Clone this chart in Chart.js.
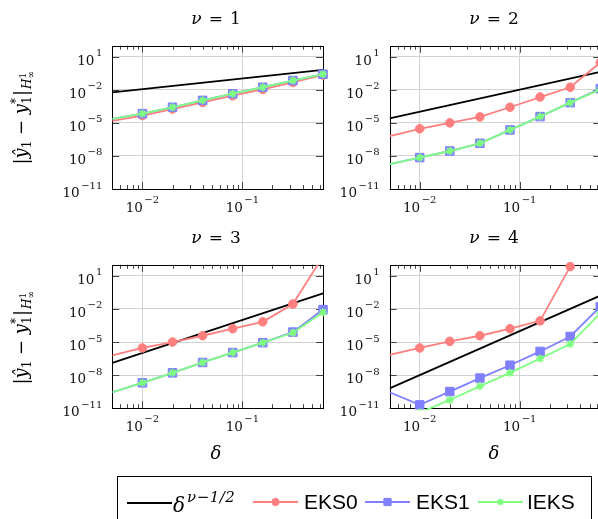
<!DOCTYPE html>
<html>
<head>
<meta charset="utf-8">
<script src="https://cdn.jsdelivr.net/npm/chart.js@4.4.1/dist/chart.umd.min.js"></script>
<style>
  body { margin: 0; background: #fff; overflow: hidden; }
  #fig { position: relative; width: 598px; height: 519px; overflow: hidden; }
  #fig canvas.plot { position: absolute; left: 0; top: 0; }
  .txt { position: absolute; font-family: "DejaVu Serif", serif; color: #000; white-space: nowrap; transform: translate(-50%, -50%); }
  .ttl { font-size: 17px; }
  .ttl i { margin-right: 7px; }
  .ttl b { font-weight: normal; margin-right: 7px; }
  .xl { font-size: 18px; font-style: italic; }
  .yl { font-size: 18px; line-height: 1; transform: translate(-50%, -50%) rotate(-90deg); }
  .yl .sb { font-size: 12px; position: relative; top: 4px; }
  .yl .ss { display: inline-block; position: relative; width: 8px; height: 0; vertical-align: baseline; }
  .yl .ss .u, .yl .ss .d { position: absolute; left: 0; font-size: 12px; line-height: 12px; }
  .yl .ss .u { top: -17px; }
  .yl .ss .d { top: -6px; }
  .yl .h { display: inline-block; position: relative; top: 4px; font-size: 12px; margin-left: 1px; }
  .yl .h .ss { width: 9px; }
  .yl .h .ss .u, .yl .h .ss .d { font-size: 9px; line-height: 9px; }
  .yl .h .ss .u { top: -12px; }
  .yl .h .ss .d { top: -4px; }
  #legend { position: absolute; left: 117px; top: 476px; width: 475px; height: 60px; border: 1px solid #000;
            box-sizing: border-box; font-family: "Liberation Sans", Arial, sans-serif; font-size: 21px; }
  #legend .it { position: absolute; top: 13px; display: flex; align-items: center; }
  #legend .dl { font-family: "DejaVu Serif", serif; font-style: italic; font-size: 20px; }
  #legend .dl sup { font-size: 15px; position: relative; top: -2px; margin-left: 2px; letter-spacing: 0.5px; }
</style>
</head>
<body>
<div id="fig">
  <canvas class="plot" id="c1" width="610" height="519"></canvas>
  <canvas class="plot" id="c2" width="610" height="519"></canvas>
  <canvas class="plot" id="c3" width="610" height="519"></canvas>
  <canvas class="plot" id="c4" width="610" height="519"></canvas>

  <div class="txt ttl" style="left:216px;top:18px"><i>ν</i><b>=</b>1</div>
  <div class="txt ttl" style="left:494px;top:18px"><i>ν</i><b>=</b>2</div>
  <div class="txt ttl" style="left:216px;top:237px"><i>ν</i><b>=</b>3</div>
  <div class="txt ttl" style="left:494px;top:237px"><i>ν</i><b>=</b>4</div>

  <div class="txt yl" style="left:21px;top:117px">|<i>ŷ</i><span class="sb">1</span> − <i>y</i><span class="ss"><span class="u">*</span><span class="d">1</span></span>|<span class="h"><i>H</i><span class="ss"><span class="u">1</span><span class="d">∞</span></span></span></div>
  <div class="txt yl" style="left:21px;top:337px">|<i>ŷ</i><span class="sb">1</span> − <i>y</i><span class="ss"><span class="u">*</span><span class="d">1</span></span>|<span class="h"><i>H</i><span class="ss"><span class="u">1</span><span class="d">∞</span></span></span></div>

  <div class="txt xl" style="left:216px;top:452px">δ</div>
  <div class="txt xl" style="left:494px;top:452px">δ</div>

  <div id="legend"></div>
</div>

<script>
// step sizes
const delta = [0.005, 0.01, 0.02, 0.04, 0.08, 0.16, 0.32, 0.64];
// reference line is drawn between its two end points
const deltaRef = [0.005, 0.64];

// nu = 1
const ref1 = [5.9e-3, 0.65];
const eks0_1 = [1.5e-5, 4.6e-5, 1.8e-4, 7.2e-4, 2.9e-3, 1.1e-2, 4.6e-2, 0.22];
const eks1_1 = [2.3e-5, 6.9e-5, 2.6e-4, 1.1e-3, 4.4e-3, 1.7e-2, 6.9e-2, 0.26];
const ieks_1 = [2.3e-5, 6.9e-5, 2.6e-4, 1.1e-3, 4.4e-3, 1.7e-2, 6.9e-2, 0.26];

// nu = 2
const ref2 = [2.5e-5, 0.42];
const eks0_2 = [6.3e-7, 2.9e-6, 1.0e-5, 3.5e-5, 2.6e-4, 2.2e-3, 1.7e-2, 2.95];
const eks1_2 = [1.8e-9, 7.1e-9, 2.8e-8, 1.4e-7, 2.3e-6, 3.7e-5, 6.8e-4, 1.26e-2];
const ieks_2 = [1.8e-9, 7.1e-9, 2.8e-8, 1.4e-7, 2.3e-6, 3.7e-5, 6.8e-4, 1.1e-2];

// nu = 3
const ref3 = [1.3e-7, 0.26];
const eks0_3 = [6.3e-7, 2.9e-6, 1.0e-5, 3.7e-5, 1.6e-4, 6.8e-4, 2.8e-2, 590];
const eks1_3 = [2.8e-10, 2.0e-9, 1.6e-8, 1.4e-7, 1.1e-6, 8.7e-6, 7.9e-5, 8.7e-3];
const ieks_3 = [2.8e-10, 2.0e-9, 1.6e-8, 1.4e-7, 1.1e-6, 8.7e-6, 6.9e-5, 5.0e-3];

// nu = 4
const ref4 = [6.3e-10, 0.16];
const eks0_4 = [6.8e-7, 2.9e-6, 1.15e-5, 3.7e-5, 1.6e-4, 8.3e-4, 69, null];
const eks1_4 = [2.8e-10, 2.0e-11, 3.2e-10, 5.4e-9, 7.9e-8, 1.4e-6, 3.2e-5, 1.6e-2];
const ieks_4 = [null, 4.0e-12, 5.6e-11, 1.0e-9, 1.6e-8, 3.2e-7, 6.6e-6, 4.1e-3];

// axes
const xMinorTicks = [0.005, 0.006, 0.007, 0.008, 0.009, 0.02, 0.03, 0.04, 0.05, 0.06, 0.07, 0.08, 0.09, 0.2, 0.3, 0.4, 0.5, 0.6];
const xMajorTicks = [0.01, 0.1];
const xTickExp = ['-2', '-1'];
const yMajorTicks = [1e-11, 1e-8, 1e-5, 1e-2, 1e1];
const yTickExp = ['-11', '-8', '-5', '-2', '1'];

const seriesNames = ['δ^(ν−1/2)', 'EKS0', 'EKS1', 'IEKS'];

const W = 610, H = 519;
const colRef = '#000000', colEks0 = '#ff7f7f', colEks1 = '#7f7fff', colIeks = '#7fff7f';

const panels = [
  { id: 'c1', area: [112.3, 45.7, 323, 189], ref: ref1, eks0: eks0_1, eks1: eks1_1, ieks: ieks_1, clipTop: 0 },
  { id: 'c2', area: [389.6, 45.7, 600.3, 189], ref: ref2, eks0: eks0_2, eks1: eks1_2, ieks: ieks_2, clipTop: 0 },
  { id: 'c3', area: [112.3, 264.8, 323, 408.2], ref: ref3, eks0: eks0_3, eks1: eks1_3, ieks: ieks_3, clipTop: 0 },
  { id: 'c4', area: [389.6, 264.8, 600.3, 408.2], ref: ref4, eks0: eks0_4, eks1: eks1_4, ieks: ieks_4, clipTop: 6 }
];

function pts(xs, ys) {
  return xs.map((x, i) => ({ x: x, y: ys[i] }));
}

function noFirst(r) {
  return c => c.dataIndex === 0 ? 0 : r;
}

const BASE_FONT = '13.5px "DejaVu Serif", serif';
const SUP_FONT = '10px "DejaVu Serif", serif';

function drawPow(ctx, exp, x, yBase, align) {
  const sup = exp.replace('-', '\u2212');
  ctx.font = BASE_FONT;
  const wb = ctx.measureText('10').width;
  ctx.font = SUP_FONT;
  const ws = ctx.measureText(sup).width;
  const w = wb + 1.5 + ws;
  const x0 = align === 'center' ? x - w / 2 : x - w;
  ctx.fillStyle = '#111';
  ctx.textAlign = 'left';
  ctx.textBaseline = 'alphabetic';
  ctx.font = BASE_FONT;
  ctx.fillText('10', x0, yBase);
  ctx.font = SUP_FONT;
  ctx.fillText(sup, x0 + wb + 1.5, yBase - 8.5);
}

// frame, inward tick marks and 10^k labels like pgfplots
const pgfAxis = {
  id: 'pgfAxis',
  beforeDatasetsDraw(chart) {
    const { ctx, chartArea: a, scales } = chart;
    ctx.save();
    ctx.strokeStyle = '#444';
    ctx.lineWidth = 1;
    ctx.beginPath();
    xMinorTicks.forEach(v => {
      const px = Math.round(scales.x.getPixelForValue(v)) + 0.5;
      if (px < a.left + 1 || px > a.right - 1) return;
      ctx.moveTo(px, a.top); ctx.lineTo(px, a.top + 4);
      ctx.moveTo(px, a.bottom); ctx.lineTo(px, a.bottom - 4);
    });
    xMajorTicks.forEach(v => {
      const px = Math.round(scales.x.getPixelForValue(v)) + 0.5;
      ctx.moveTo(px, a.top); ctx.lineTo(px, a.top + 7);
      ctx.moveTo(px, a.bottom); ctx.lineTo(px, a.bottom - 7);
    });
    yMajorTicks.forEach(v => {
      const py = Math.round(scales.y.getPixelForValue(v)) + 0.5;
      ctx.moveTo(a.left, py); ctx.lineTo(a.left + 7, py);
      ctx.moveTo(a.right, py); ctx.lineTo(a.right - 7, py);
    });
    ctx.stroke();
    ctx.strokeStyle = '#000';
    ctx.strokeRect(Math.round(a.left) + 0.5, Math.round(a.top) + 0.5,
                   Math.round(a.right - a.left), Math.round(a.bottom - a.top));
    ctx.restore();
  },
  afterDraw(chart) {
    const { ctx, chartArea: a, scales } = chart;
    ctx.save();
    xMajorTicks.forEach((v, i) => {
      drawPow(ctx, xTickExp[i], scales.x.getPixelForValue(v), a.bottom + 22.5, 'center');
    });
    yMajorTicks.forEach((v, i) => {
      drawPow(ctx, yTickExp[i], a.left - 10, scales.y.getPixelForValue(v) + 8, 'right');
    });
    ctx.restore();
  }
};

panels.forEach(p => {
  const clip = { left: 0, top: p.clipTop, right: 8, bottom: 2 };
  new Chart(document.getElementById(p.id), {
    type: 'line',
    data: {
      datasets: [
        {
          label: seriesNames[0], data: pts(deltaRef, p.ref), order: 3,
          borderColor: colRef, borderWidth: 1.8, pointRadius: 0, clip: clip
        },
        {
          label: seriesNames[1], data: pts(delta, p.eks0), order: 2,
          borderColor: colEks0, backgroundColor: colEks0, borderWidth: 1.8,
          pointStyle: 'circle', pointRadius: noFirst(4.3), pointBorderWidth: 1, clip: clip
        },
        {
          label: seriesNames[2], data: pts(delta, p.eks1), order: 1,
          borderColor: colEks1, backgroundColor: colEks1, borderWidth: 1.8,
          pointStyle: 'rect', pointRadius: noFirst(6), pointBorderWidth: 1, clip: clip
        },
        {
          label: seriesNames[3], data: pts(delta, p.ieks), order: 0,
          borderColor: colIeks, backgroundColor: colIeks, borderWidth: 1.8,
          pointStyle: 'star', pointRadius: noFirst(4), pointBorderWidth: 1.7, clip: clip
        }
      ]
    },
    options: {
      responsive: false,
      animation: false,
      devicePixelRatio: 1,
      events: [],
      layout: { padding: { left: p.area[0], top: p.area[1], right: W - p.area[2], bottom: H - p.area[3] } },
      plugins: { legend: { display: false }, tooltip: { enabled: false } },
      scales: {
        x: {
          type: 'logarithmic', min: 0.005, max: 0.64,
          afterFit: s => { s.height = 0; },
          afterBuildTicks: s => { s.ticks = xMajorTicks.map(v => ({ value: v })); },
          ticks: { display: false },
          border: { display: false },
          grid: { color: '#d2d2d2', lineWidth: 1, drawTicks: false }
        },
        y: {
          type: 'logarithmic', min: 1e-11, max: 1e2,
          afterFit: s => { s.width = 0; },
          afterBuildTicks: s => { s.ticks = yMajorTicks.map(v => ({ value: v })); },
          ticks: { display: false },
          border: { display: false },
          grid: { color: '#d2d2d2', lineWidth: 1, drawTicks: false }
        }
      }
    },
    plugins: [pgfAxis]
  });
});

// legend in one row, as in the figure (left offsets inside the box)
const legendItems = [
  { color: colRef, style: false, r: 0, left: 9, gap: 1 },
  { color: colEks0, style: 'circle', r: 4.3, left: 135, gap: 6 },
  { color: colEks1, style: 'rect', r: 6, left: 247, gap: 6 },
  { color: colIeks, style: 'star', r: 4, left: 360, gap: 4 }
];
const legend = document.getElementById('legend');
legendItems.forEach((it, i) => {
  const box = document.createElement('span');
  box.className = 'it';
  box.style.left = it.left + 'px';
  const cv = document.createElement('canvas');
  cv.width = 45; cv.height = 16;
  cv.style.marginRight = it.gap + 'px';
  const g = cv.getContext('2d');
  g.strokeStyle = it.color; g.fillStyle = it.color; g.lineWidth = 1.8;
  g.beginPath(); g.moveTo(0, 8); g.lineTo(45, 8); g.stroke();
  if (it.style) {
    g.lineWidth = it.style === 'star' ? 1.6 : 1;
    Chart.helpers.drawPoint(g, { pointStyle: it.style, radius: it.r * 0.85, borderWidth: g.lineWidth, rotation: 0 }, 22.5, 8);
  }
  box.appendChild(cv);
  const lab = document.createElement('span');
  if (i === 0) {
    lab.className = 'dl';
    lab.innerHTML = 'δ<sup>ν−1/2</sup>';
  } else {
    lab.textContent = seriesNames[i];
  }
  box.appendChild(lab);
  legend.appendChild(box);
});
</script>
</body>
</html>
